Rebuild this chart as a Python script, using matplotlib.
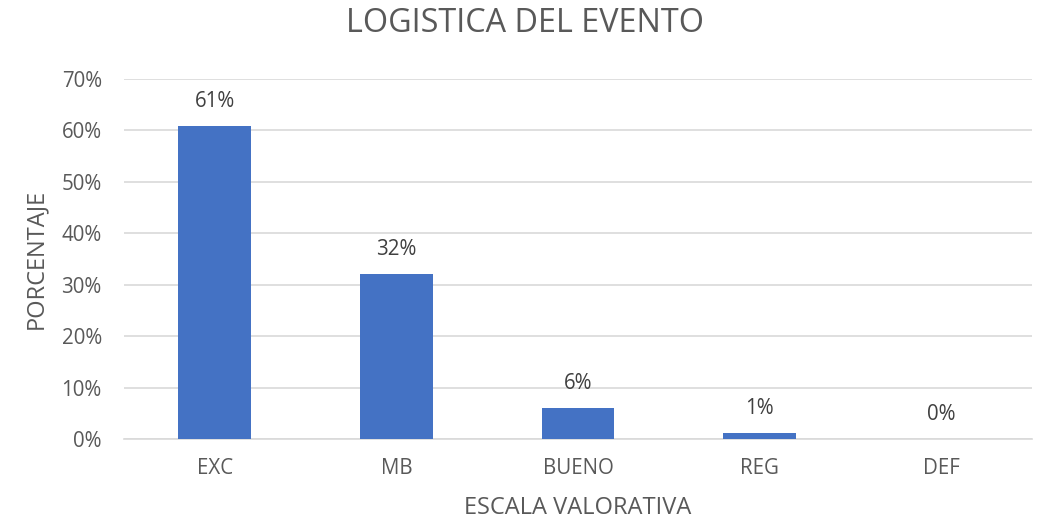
import matplotlib
matplotlib.use("Agg")
import matplotlib.pyplot as plt
from matplotlib.ticker import FuncFormatter

categories = ["EXC", "MB", "BUENO", "REG", "DEF"]
values = [0.608, 0.321, 0.060, 0.012, 0.0]
labels = ["61%", "32%", "6%", "1%", "0%"]
yticks = [0, 0.1, 0.2, 0.3, 0.4, 0.5, 0.6, 0.7]

plt.rcParams['font.family'] = ['Open Sans', 'DejaVu Sans']
txt = '#595959'

W, H = 1040, 521
fig = plt.figure(figsize=(W/100, H/100), dpi=100)
ax = fig.add_axes([124/W, 1-439/H, (1032-124)/W, (439-79)/H])

x = range(len(categories))
bars = ax.bar(x, values, width=0.4, color='#4472C4', zorder=3)
for xi, v, lab in zip(x, values, labels):
    ax.annotate(lab, (xi, v), xytext=(0, 10), textcoords='offset points',
                ha='center', va='bottom', fontsize=14.8, color='#404040')

ax.set_xlim(-0.5, len(categories)-0.5)
ax.set_ylim(0, 0.7)
ax.set_yticks(yticks)
ax.yaxis.set_major_formatter(FuncFormatter(lambda v, p: f"{v*100:.0f}%"))
ax.set_xticks(list(x))
ax.set_xticklabels(categories)
ax.tick_params(axis='both', length=0, labelsize=14.8, colors=txt)
ax.tick_params(axis='y', pad=16)
ax.tick_params(axis='x', pad=14)
ax.grid(axis='y', color='#d9d9d9', linewidth=1.2, zorder=0)
for s in ['top', 'right', 'left']:
    ax.spines[s].set_visible(False)
ax.spines['bottom'].set_color('#d9d9d9')
ax.spines['bottom'].set_linewidth(1.2)

fig.text(0.505, 1-24/H, "LOGISTICA DEL EVENTO", fontsize=23.3, color=txt,
         ha='center', va='center')
ax.set_xlabel("ESCALA VALORATIVA", fontsize=17, color=txt, labelpad=12)
ax.set_ylabel("PORCENTAJE", fontsize=17, color=txt, labelpad=10)

fig.savefig("out.png", dpi=100, facecolor='white')
